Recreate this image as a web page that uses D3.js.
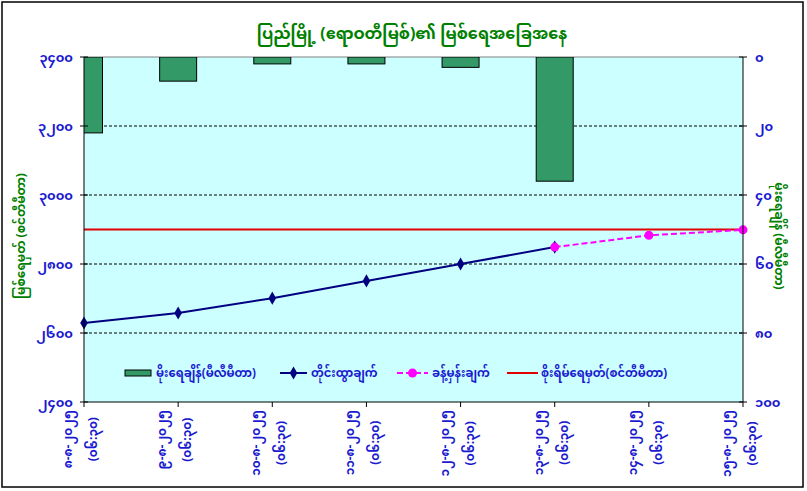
<!DOCTYPE html>
<html><head><meta charset="utf-8">
<script src="https://cdn.jsdelivr.net/npm/d3@7"></script>
<style>
html,body{margin:0;padding:0;background:#fff;}
svg{display:block;}
text{font-family:"Noto Sans Myanmar","Padauk","Myanmar Text","Myanmar3","Noto Sans",sans-serif;}
</style></head>
<body>
<svg id="chart" width="807" height="491"></svg>
<script>
// ---- data ----
const categories = ["၈-၈-၂၀၂၅","၉-၈-၂၀၂၅","၁၀-၈-၂၀၂၅","၁၁-၈-၂၀၂၅","၁၂-၈-၂၀၂၅","၁၃-၈-၂၀၂၅","၁၄-၈-၂၀၂၅","၁၅-၈-၂၀၂၅"];
const times = ["(၀၆:၃၀)","(၀၆:၃၀)","(၀၆:၃၀)","(၀၆:၃၀)","(၀၆:၃၀)","(၀၆:၃၀)","(၀၆:၃၀)","(၀၆:၃၀)"];
const rainfall = [22, 7, 2, 2, 3, 36, null, null];
const observed = [2629, 2658, 2701, 2751, 2800, 2849, null, null];
const forecast = [null, null, null, null, null, 2849, 2883, 2899];
const danger = [2900, 2900, 2900, 2900, 2900, 2900, 2900, 2900];
const leftTicks = [2400, 2600, 2800, 3000, 3200, 3400];
const leftTickLabels = ["၂၄၀၀","၂၆၀၀","၂၈၀၀","၃၀၀၀","၃၂၀၀","၃၄၀၀"];
const rightTicks = [0, 20, 40, 60, 80, 100];
const rightTickLabels = ["၀","၂၀","၄၀","၆၀","၈၀","၁၀၀"];
const title = "ပြည်မြို့ (ဧရာဝတီမြစ်)၏ မြစ်ရေအခြေအနေ";
const leftTitle = "မြစ်ရေမှတ် (စင်တီမီတာ)";
const rightTitle = "မိုးရေချိန် (မီလီမီတာ)";
const legendNames = ["မိုးရေချိန်(မီလီမီတာ)","တိုင်းထွာချက်","ခန့်မှန်းချက်","စိုးရိမ်ရေမှတ်(စင်တီမီတာ)"];

// ---- layout ----
const svg = d3.select("#chart");
const P = {l:84, r:743, t:57, b:402};
const blue = "#1a1ad0", green = "#008000";

const x = d3.scalePoint().domain(d3.range(categories.length)).range([P.l, P.r]);
const yL = d3.scaleLinear().domain([2400, 3400]).range([P.b, P.t]);
const yR = d3.scaleLinear().domain([0, 100]).range([P.t, P.b]);

// outer border
svg.append("rect").attr("x",2).attr("y",2).attr("width",801).attr("height",485)
  .attr("fill","#fff").attr("stroke","#000").attr("stroke-width",1.5);

// plot area
svg.append("rect").attr("x",P.l).attr("y",P.t).attr("width",P.r-P.l).attr("height",P.b-P.t)
  .attr("fill","#ccffff");
svg.append("defs").append("clipPath").attr("id","clip")
  .append("rect").attr("x",P.l).attr("y",P.t).attr("width",P.r-P.l).attr("height",P.b-P.t);

// gridlines
svg.append("g").selectAll("line").data(leftTicks.filter(d=>d>2400 && d<3400)).join("line")
  .attr("x1",P.l).attr("x2",P.r).attr("y1",d=>yL(d)).attr("y2",d=>yL(d))
  .attr("stroke","#000").attr("stroke-width",1).attr("stroke-dasharray","3,2");
// top border of plot
svg.append("line").attr("x1",P.l).attr("x2",P.r).attr("y1",P.t).attr("y2",P.t)
  .attr("stroke","#808080").attr("stroke-width",1);

// bars
const gBars = svg.append("g").attr("clip-path","url(#clip)");
const bw = 37;
gBars.selectAll("rect").data(rainfall.map((v,i)=>({v,i})).filter(d=>d.v!=null && d.v>0)).join("rect")
  .attr("x",d=>x(d.i)-bw/2).attr("width",bw)
  .attr("y",yR(0)).attr("height",d=>yR(d.v)-yR(0))
  .attr("fill","#339966").attr("stroke","#000").attr("stroke-width",1);

// danger line
svg.append("path").datum(danger.map((v,i)=>({v,i})))
  .attr("d", d3.line().x(d=>x(d.i)).y(d=>yL(d.v)))
  .attr("fill","none").attr("stroke","#e00000").attr("stroke-width",2);

// observed
const obs = observed.map((v,i)=>({v,i})).filter(d=>d.v!=null);
svg.append("path").datum(obs)
  .attr("d", d3.line().x(d=>x(d.i)).y(d=>yL(d.v)))
  .attr("fill","none").attr("stroke","#000080").attr("stroke-width",2);
const diamond = d3.symbol().type(d3.symbolDiamond).size(50);
svg.append("g").selectAll("path").data(obs).join("path")
  .attr("transform",d=>`translate(${x(d.i)},${yL(d.v)})`).attr("d",diamond)
  .attr("fill","#000080");

// forecast
const fc = forecast.map((v,i)=>({v,i})).filter(d=>d.v!=null);
svg.append("path").datum(fc)
  .attr("d", d3.line().x(d=>x(d.i)).y(d=>yL(d.v)))
  .attr("fill","none").attr("stroke","#ff00ff").attr("stroke-width",2).attr("stroke-dasharray","6,3");
svg.append("g").selectAll("circle").data(fc).join("circle")
  .attr("cx",d=>x(d.i)).attr("cy",d=>yL(d.v)).attr("r",4.5).attr("fill","#ff00ff");

// axes lines
svg.append("line").attr("x1",P.l).attr("x2",P.l).attr("y1",P.t).attr("y2",P.b).attr("stroke","#000");
svg.append("line").attr("x1",P.r).attr("x2",P.r).attr("y1",P.t).attr("y2",P.b).attr("stroke","#000");
svg.append("line").attr("x1",P.l).attr("x2",P.r).attr("y1",P.b).attr("y2",P.b).attr("stroke","#000");

// left ticks
const gL = svg.append("g");
gL.selectAll("line").data(leftTicks).join("line")
  .attr("x1",P.l-4).attr("x2",P.l+4).attr("y1",d=>yL(d)).attr("y2",d=>yL(d)).attr("stroke","#000");
gL.selectAll("text").data(leftTicks).join("text")
  .attr("x",P.l-11).attr("y",d=>yL(d)).attr("dy","0.35em").attr("text-anchor","end")
  .attr("fill",blue).attr("font-size",13).attr("font-weight","bold").text((d,i)=>leftTickLabels[i]);
// right ticks
const gR = svg.append("g");
gR.selectAll("line").data(rightTicks).join("line")
  .attr("x1",P.r-4).attr("x2",P.r+4).attr("y1",d=>yR(d)).attr("y2",d=>yR(d)).attr("stroke","#000");
gR.selectAll("text").data(rightTicks).join("text")
  .attr("x",P.r+12).attr("y",d=>yR(d)).attr("dy","0.35em").attr("text-anchor","start")
  .attr("fill",blue).attr("font-size",13).attr("font-weight","bold").text((d,i)=>rightTickLabels[i]);
// bottom ticks
svg.append("g").selectAll("line").data(d3.range(categories.length)).join("line")
  .attr("x1",d=>x(d)).attr("x2",d=>x(d)).attr("y1",P.b).attr("y2",P.b+5).attr("stroke","#000");

// x labels (rotated, two lines)
const gX = svg.append("g");
categories.forEach((c,i)=>{
  const g = gX.append("g");
  const t1 = g.append("text").attr("font-size",12).attr("font-weight","bold").attr("fill",blue).attr("text-anchor","middle").text(c);
  const t2 = g.append("text").attr("font-size",12).attr("font-weight","bold").attr("fill",blue).attr("text-anchor","middle").text(times[i]);
  const L = Math.max(t1.node().getComputedTextLength(), t2.node().getComputedTextLength());
  const cy = 410 + L/2;
  t1.attr("transform",`translate(${x(i)-12},${cy}) rotate(-90)`);
  t2.attr("transform",`translate(${x(i)+13},${cy}) rotate(-90)`);
});

// titles
svg.append("text").attr("x",412).attr("y",39).attr("text-anchor","middle")
  .attr("font-size",16).attr("font-weight","bold").attr("fill",green).text(title);
svg.append("text").attr("transform","translate(25,236) rotate(-90)").attr("text-anchor","middle")
  .attr("font-size",12).attr("font-weight","bold").attr("fill",green).text(leftTitle);
svg.append("text").attr("transform","translate(775,236) rotate(90)").attr("text-anchor","middle")
  .attr("font-size",12).attr("font-weight","bold").attr("fill",green).text(rightTitle);

// legend
const lg = svg.append("g");
const ly = 373;
lg.append("rect").attr("x",125).attr("y",ly-3).attr("width",26).attr("height",6)
  .attr("fill","#339966").attr("stroke","#000").attr("stroke-width",1);
lg.append("line").attr("x1",280).attr("x2",307).attr("y1",ly).attr("y2",ly).attr("stroke","#000080").attr("stroke-width",2);
lg.append("path").attr("transform",`translate(293.5,${ly})`).attr("d",diamond).attr("fill","#000080");
lg.append("line").attr("x1",397).attr("x2",428).attr("y1",ly).attr("y2",ly).attr("stroke","#ff00ff").attr("stroke-width",2).attr("stroke-dasharray","6,3");
lg.append("circle").attr("cx",412.5).attr("cy",ly).attr("r",4.5).attr("fill","#ff00ff");
lg.append("line").attr("x1",507).attr("x2",538).attr("y1",ly).attr("y2",ly).attr("stroke","#e00000").attr("stroke-width",2);
const lx = [156, 311, 432, 541];
lg.selectAll("text.lt").data(legendNames).join("text").attr("class","lt")
  .attr("x",(d,i)=>lx[i]).attr("y",ly).attr("dy","0.35em")
  .attr("font-size",11.5).attr("font-weight","bold").attr("fill",blue).text(d=>d);
</script>
</body></html>
